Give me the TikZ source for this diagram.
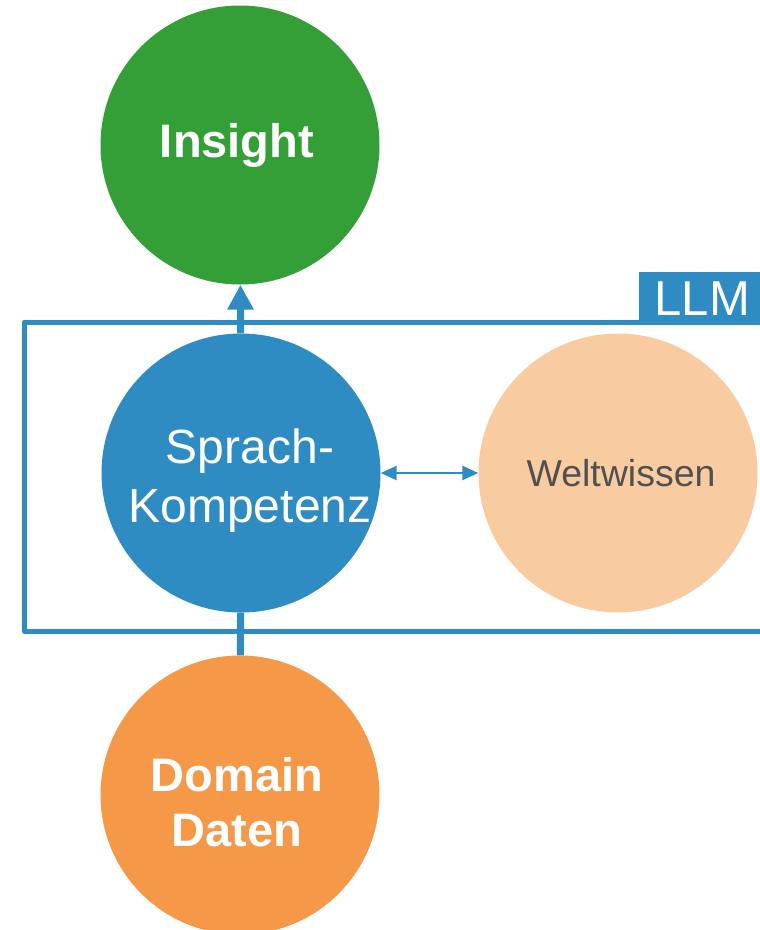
\documentclass[tikz,border=0pt]{standalone}
\usepackage{fontspec}
\setmainfont{Liberation Sans}
\usetikzlibrary{arrows.meta}

\definecolor{llmblue}{HTML}{2E8CC2}
\definecolor{insightgreen}{HTML}{349E37}
\definecolor{domainorange}{HTML}{F59848}
\definecolor{weltpeach}{HTML}{F9CBA1}
\definecolor{weltgrey}{HTML}{505050}

\tikzset{
  bubble/.style={circle, minimum size=279pt, inner sep=0pt, align=center, text=white},
  bubbletext/.style={align=center, text=white, inner sep=0pt},
}

\begin{document}
\begin{tikzpicture}[x=1pt, y=-1pt, >={Triangle}]
            \clip (0,0) rectangle (760,930);
            % LLM frame
            \draw[llmblue, line width=5pt, line join=round] (790,322) -- (24,322) -- (24,631) -- (790,631);
            \node[fill=llmblue, text=white, anchor=north east, minimum width=121pt, minimum height=53pt, inner sep=0pt,
                  font=\fontsize{49}{52}\selectfont] (llm) at (760,272) {\hspace*{6pt}LLM};

            \node[bubble, fill=insightgreen, font=\fontsize{47}{52}\selectfont\bfseries] (insight) at (240,145)
                {\hspace*{-6pt}Insight};
            \node[bubble, fill=llmblue,
                  label={[bubbletext, xshift=9pt, yshift=-8pt, font=\fontsize{48}{59}\selectfont]center:Sprach-\\Kompetenz}]
                (sprach) at (241,473) {};
            \node[bubble, fill=weltpeach, text=weltgrey, font=\fontsize{37.5}{40}\selectfont] (welt) at (618,473)
                {\hspace*{6pt}Weltwissen};
            \node[bubble, fill=domainorange,
                  label={[bubbletext, xshift=-3pt, yshift=-7pt, font=\fontsize{47}{55}\selectfont\bfseries]center:Domain\\Daten}]
                (domain) at (240,795) {};

            \draw[->, llmblue, line width=7pt, >={Triangle[width=25pt, length=25pt]}] (sprach) -- (insight);
            \draw[llmblue, line width=7pt] (domain) -- (sprach);
            \draw[<->, llmblue, line width=2.5pt, >={Triangle[width=14pt, length=16pt]}] (sprach) -- (welt);
        \end{tikzpicture}
\end{document}
